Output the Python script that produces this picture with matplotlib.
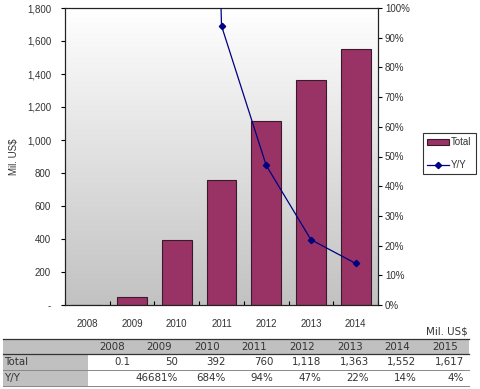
import matplotlib
matplotlib.use("Agg")
import matplotlib.pyplot as plt
import numpy as np
from matplotlib.patches import Rectangle
from matplotlib.lines import Line2D

years = ["2008", "2009", "2010", "2011", "2012", "2013", "2014"]
total = [0.1, 50, 392, 760, 1118, 1363, 1552]
yoy = [np.nan, 46681, 684, 94, 47, 22, 14]

table_years = ["2008", "2009", "2010", "2011", "2012", "2013", "2014", "2015"]
table_total = ["0.1", "50", "392", "760", "1,118", "1,363", "1,552", "1,617"]
table_yoy = ["", "46681%", "684%", "94%", "47%", "22%", "14%", "4%"]

left_ticks = [0, 200, 400, 600, 800, 1000, 1200, 1400, 1600, 1800]
right_ticks = list(range(0, 101, 10))

W, H = 480, 389
fig = plt.figure(figsize=(W / 100, H / 100), dpi=100)
fig.patch.set_facecolor("white")

def fx(px):
    return px / W
def fy(py):
    return 1 - py / H

ax = fig.add_axes([fx(65), fy(305), fx(378) - fx(65), fy(8) - fy(305)])
x = np.arange(len(years))
ax.set_xlim(-0.5, len(years) - 0.5)
ax.set_ylim(0, 1800)

# gradient background
grad = np.linspace(1, 0, 256).reshape(-1, 1)
top = np.array([1.0, 1.0, 1.0])
bot = np.array([0.76, 0.76, 0.76])
img = top * grad[..., None] + bot * (1 - grad[..., None])
ax.imshow(img, extent=[-0.5, len(years) - 0.5, 0, 1800], aspect="auto", zorder=0, interpolation="bicubic")

ax.bar(x, total, width=0.67, color="#993366", edgecolor="#3a1a2a", linewidth=0.8, zorder=2)

font = "Liberation Sans"
tc = "#333333"
ax.set_yticks(left_ticks)
ax.set_yticklabels(["-"] + [f"{v:,}" for v in left_ticks[1:]], fontsize=7, family=font, color=tc)
ax.set_xticks(x)
ax.set_xticklabels(years, fontsize=7, family=font, color=tc)
ax.tick_params(axis="x", length=0, pad=10)
ax.set_xticks(np.arange(-0.5, len(years) + 0.5, 1), minor=True)
ax.tick_params(axis="x", which="minor", direction="in", length=3, width=0.8)
ax.tick_params(axis="y", direction="out", length=3, width=0.8, pad=7)
for s in ax.spines.values():
    s.set_linewidth(0.8)
    s.set_color("#222222")
ax.set_ylabel("Mil. US$", fontsize=7, family=font, labelpad=6, color=tc)

ax2 = ax.twinx()
ax2.set_ylim(0, 100)
ax2.plot(x, yoy, color="#000080", marker="D", markersize=3.2, linewidth=0.9, zorder=3)
ax2.set_yticks(right_ticks)
ax2.set_yticklabels([f"{v}%" for v in right_ticks], fontsize=7, family=font, color=tc)
ax2.tick_params(axis="y", direction="out", length=3, width=0.8, pad=2)
for s in ax2.spines.values():
    s.set_linewidth(0.8)
    s.set_color("#222222")

# legend
handles = [Rectangle((0, 0), 1, 1, facecolor="#993366", edgecolor="#3a1a2a", linewidth=0.8),
           Line2D([0], [0], color="#000080", marker="D", markersize=3.2, linewidth=0.9)]
leg = fig.legend(handles, ["Total", "Y/Y"], loc="upper left",
                 bbox_to_anchor=(fx(423), fy(133)), prop={"family": font, "size": 7},
                 frameon=True, fancybox=False, borderpad=0.45, handlelength=2.2,
                 handleheight=0.55, handletextpad=0.25, labelspacing=1.3, borderaxespad=0)
leg.get_frame().set_edgecolor("black")
leg.get_frame().set_linewidth(0.8)
for t in leg.get_texts():
    t.set_color(tc)

# table
tax = fig.add_axes([0, 0, 1, 1])
tax.set_xlim(0, W)
tax.set_ylim(H, 0)
tax.axis("off")
tleft, tright = 3, 469
lab_w = 88
rows_y = [339, 354, 370, 386]
gray = "#c0c0c0"
tax.add_patch(Rectangle((tleft, rows_y[0]), tright - tleft, rows_y[1] - rows_y[0], facecolor=gray, edgecolor="none"))
tax.add_patch(Rectangle((tleft, rows_y[1]), lab_w - tleft, rows_y[3] - rows_y[1], facecolor=gray, edgecolor="none"))
for i, yy in enumerate(rows_y):
    tax.plot([tleft, tright], [yy, yy], color="#333333" if i < 2 else "#888888", lw=0.9 if i < 2 else 0.7)
colw = (tright - lab_w) / len(table_years)
tfont = "DejaVu Sans"
fs = 7.4
for j in range(len(table_years)):
    xl = lab_w + j * colw
    xr = xl + colw - 5
    tax.text(xl + colw / 2, (rows_y[0] + rows_y[1]) / 2, table_years[j], ha="center", va="center", fontsize=fs, family=tfont, color=tc)
    tax.text(xr, (rows_y[1] + rows_y[2]) / 2, table_total[j], ha="right", va="center", fontsize=fs, family=tfont, color=tc)
    tax.text(xr, (rows_y[2] + rows_y[3]) / 2, table_yoy[j], ha="right", va="center", fontsize=fs, family=tfont, color=tc)
tax.text(tleft + 1, (rows_y[1] + rows_y[2]) / 2, "Total", ha="left", va="center", fontsize=fs, family=tfont, color=tc)
tax.text(tleft + 1, (rows_y[2] + rows_y[3]) / 2, "Y/Y", ha="left", va="center", fontsize=fs, family=tfont, color=tc)
tax.text(tright - 1, 331, "Mil. US$", ha="right", va="center", fontsize=fs, family=tfont, color=tc)

fig.savefig("out.png", dpi=100)
